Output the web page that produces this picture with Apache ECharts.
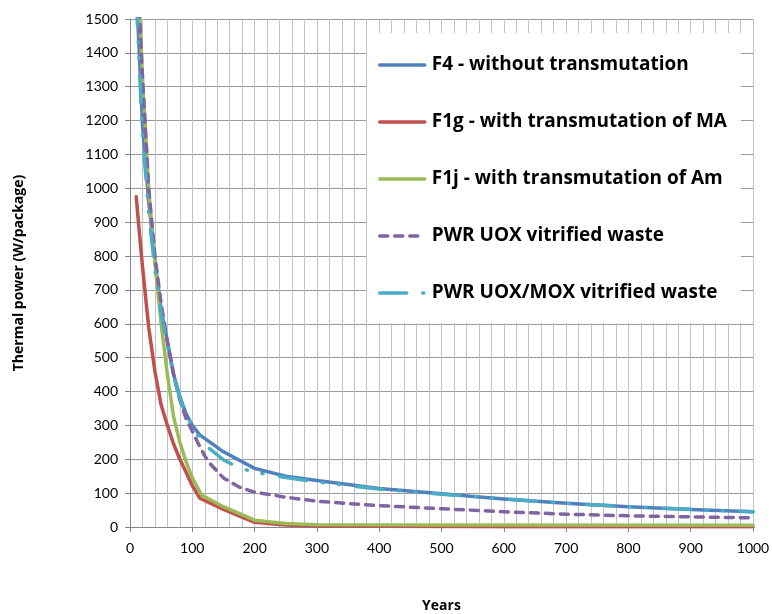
<!DOCTYPE html>
<html>
<head>
<meta charset="utf-8">
<script src="https://cdn.jsdelivr.net/npm/echarts@6/dist/echarts.min.js"></script>
<style>html,body{margin:0;padding:0;background:#fff}#c{width:772px;height:614px}</style>
</head>
<body>
<div id="c"></div>
<script>
var seriesNames = [
  'F4 - without transmutation',
  'F1g - with transmutation of MA',
  'F1j - with transmutation of Am',
  'PWR UOX vitrified waste',
  'PWR UOX/MOX vitrified waste'
];
var xTicks = [0,100,200,300,400,500,600,700,800,900,1000];
var yTicks = [0,100,200,300,400,500,600,700,800,900,1000,1100,1200,1300,1400,1500];

var f4 = [[10,1600],[20,1190],[30,960],[40,790],[50,640],[60,550],[70,450],[80,385],[90,335],[100,300],[112,272],[150,222],[200,173],[250,150],[300,137],[400,114],[500,98],[600,83],[700,70],[800,60],[900,52],[1000,45]];
var f1g = [[10,975],[15,870],[20,770],[25,680],[30,590],[40,460],[50,360],[60,300],[70,245],[80,200],[90,162],[100,122],[112,85],[150,52],[200,14],[250,6],[300,3],[400,2],[600,1],[1000,1]];
var f1j = [[10,1750],[20,1330],[30,1000],[40,780],[50,600],[60,450],[70,325],[80,250],[90,193],[100,145],[115,94],[150,60],[200,20],[250,10],[300,7],[500,6],[1000,5]];
var pwrUox = [[10,1750],[15,1520],[20,1330],[30,1000],[40,800],[50,660],[60,545],[70,450],[80,375],[90,320],[100,283],[110,245],[120,210],[128,188],[150,145],[175,118],[200,103],[250,88],[300,76],[400,63],[500,54],[600,45],[700,38],[800,33],[900,30],[1000,27]];
var pwrUoxMox = [[10,1560],[20,1160],[30,930],[40,760],[50,630],[60,535],[70,445],[80,380],[90,330],[100,300],[110,268],[125,235],[150,198],[175,175],[200,162],[250,146],[300,133],[400,112],[500,97],[600,83],[700,70],[800,60],[900,52],[1000,45]];

var colors = ['#4F81BD','#C0504D','#9BBB59','#8064A2','#4BACC6'];
var dataSets = [f4, f1g, f1j, pwrUox, pwrUoxMox];
var dashes = ['solid','solid','solid',[8,7],[27,16,1,15,1,17]];

var TICKFONT = 'Lato';
var BOLDFONT = 'Open Sans';
var chart = echarts.init(document.getElementById('c'));
chart.setOption({
  animation: false,
  backgroundColor: '#fff',
  grid: {left: 130, right: 19, top: 19, bottom: 87, containLabel: false, outerBoundsMode: 'none'},
  graphic: [{type: 'rect', z: 1, shape: {x: 367, y: 33, width: 374, height: 290}, style: {fill: '#fff'}}],
  legend: {
    orient: 'vertical', left: 378, top: 54, padding: 0,
    itemWidth: 45, itemHeight: 14, itemGap: 35,
    data: seriesNames,
    itemStyle: {opacity: 0},
    lineStyle: {width: 3.5, cap: 'round'},
    textStyle: {fontFamily: BOLDFONT, fontWeight: 'bold', fontSize: 19, color: '#000', lineHeight: 22, padding: [0,0,0,2]}
  },
  xAxis: {
    type: 'value', min: 0, max: 1000, interval: 100,
    name: 'Years', nameLocation: 'middle', nameGap: 72,
    nameTextStyle: {fontFamily: BOLDFONT, fontWeight: 'bold', fontSize: 14, color: '#000'},
    axisLine: {show: true, lineStyle: {color: '#868686', width: 1}},
    axisTick: {show: true, length: 5, lineStyle: {color: '#868686'}},
    minorTick: {show: false, splitNumber: 5},
    minorSplitLine: {show: true, lineStyle: {color: '#c2c2c2', width: 1}},
    splitLine: {show: true, lineStyle: {color: '#c2c2c2', width: 1}},
    axisLabel: {fontFamily: TICKFONT, fontSize: 14, color: '#000', margin: 14,
      formatter: function (v) { return xTicks.indexOf(v) >= 0 ? String(v) : ''; }}
  },
  yAxis: {
    type: 'value', min: 0, max: 1500, interval: 100,
    name: 'Thermal power (W/package)', nameLocation: 'middle', nameGap: 104, nameRotate: 90,
    nameTextStyle: {fontFamily: BOLDFONT, fontWeight: 'bold', fontSize: 14, color: '#000'},
    axisLine: {show: true, lineStyle: {color: '#868686', width: 1}},
    axisTick: {show: true, length: 5, lineStyle: {color: '#868686'}},
    splitLine: {show: true, lineStyle: {color: '#9a9a9a', width: 1}},
    axisLabel: {fontFamily: TICKFONT, fontSize: 14, color: '#000', margin: 12,
      formatter: function (v) { return yTicks.indexOf(v) >= 0 ? String(v) : ''; }}
  },
  series: seriesNames.map(function (n, i) {
    return {
      name: n, type: 'line', data: dataSets[i], showSymbol: false, symbol: 'none',
      clip: true, z: 3 + (i === 4 ? 1 : 0),
      lineStyle: {color: colors[i], width: 3.5, type: dashes[i], cap: 'round', join: 'round'},
      itemStyle: {color: colors[i]}
    };
  })
});
</script>
</body>
</html>
